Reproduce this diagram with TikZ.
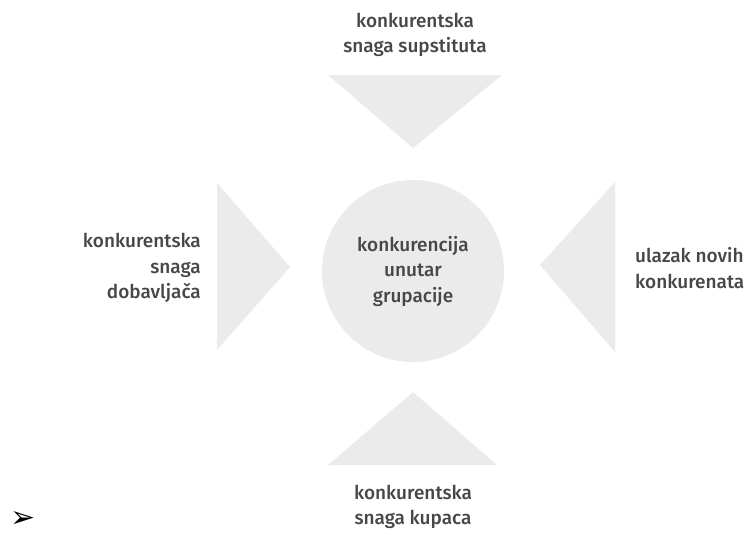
\documentclass[tikz,border=0pt]{standalone}
\usepackage{fontspec}
\setmainfont{Fira Sans}[UprightFont={* Medium}]
\newfontfamily\symfont{DejaVu Sans}
\usepackage{tikz}

\definecolor{txtgray}{HTML}{474747}
\definecolor{boxgray}{HTML}{EBEBEB}

\begin{document}
\begin{tikzpicture}[
		x=1pt, y=-1pt,
		every node/.style={text=txtgray, inner sep=0pt, align=center,
			font=\fontsize{19}{25.5}\selectfont},
		pale/.style={fill=boxgray, draw=none}
	]
  \useasboundingbox (0,0) rectangle (752,535);
  \fill[pale] (328,75) -- (502,75) -- (413,148) -- cycle;
  \fill[pale] (328,465) -- (497,465) -- (413,392) -- cycle;
  \fill[pale] (217,183) -- (217,350) -- (290,267) -- cycle;
  \fill[pale] (615,182) -- (615,352) -- (540,265) -- cycle;
  \node (grp) [circle, pale, minimum size=182pt] at (413,271) {konkurencija\\unutar\\grupacije};
  \node (sup) at (415,35) {konkurentska\\snaga supstituta};
  \node (kup) at (413,507) {konkurentska\\snaga kupaca};
  \node (dob) [anchor=east, align=right] at (201,268) {konkurentska\\snaga\\dobavljača};
  \node (nov) [anchor=west, align=left] at (635,268) {ulazak novih\\konkurenata};
  \node (bul) [text=black, font=\symfont\fontsize{30}{30}\selectfont] at (23,519) {➢};
\end{tikzpicture}
\end{document}
